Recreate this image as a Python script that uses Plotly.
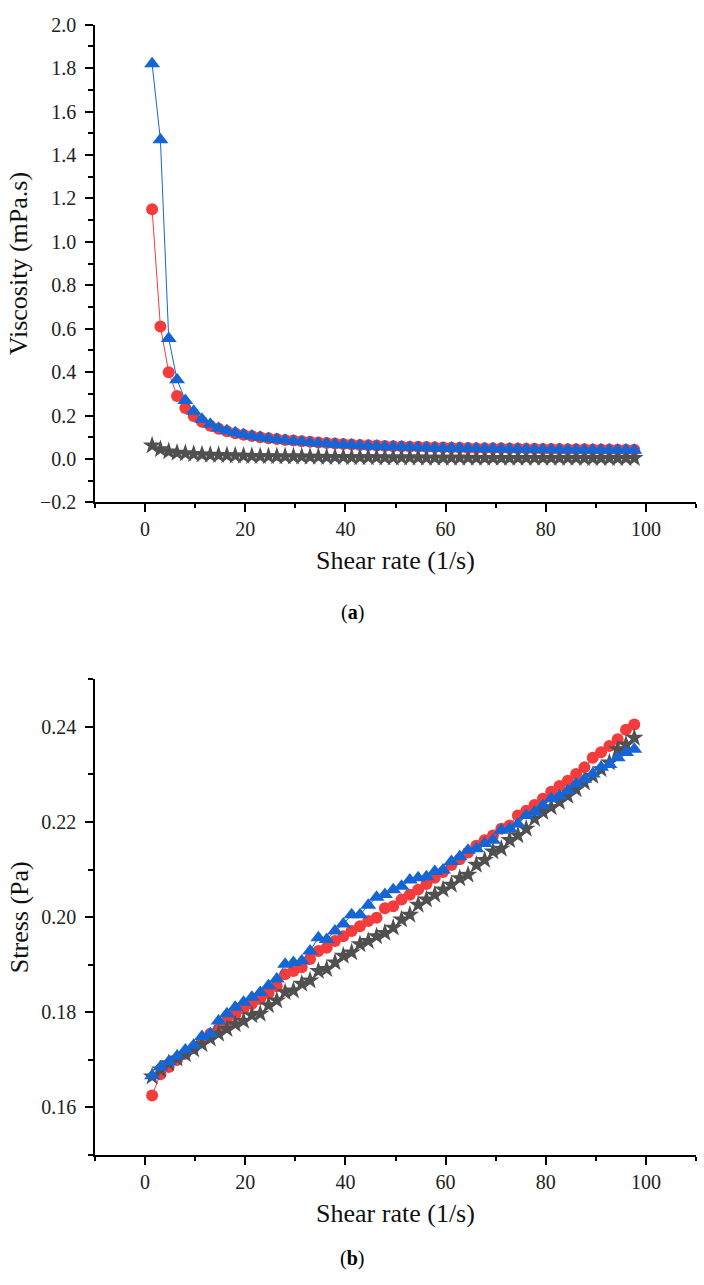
import plotly.graph_objects as go

# ---- data ----
shear_rate = [1.40, 3.06, 4.72, 6.38, 8.04, 9.70, 11.36, 13.02, 14.68, 16.34,
              18.00, 19.66, 21.32, 22.98, 24.64, 26.30, 27.96, 29.62, 31.28, 32.94,
              34.60, 36.26, 37.92, 39.58, 41.24, 42.90, 44.56, 46.22, 47.88, 49.54,
              51.20, 52.86, 54.52, 56.18, 57.84, 59.50, 61.16, 62.82, 64.48, 66.14,
              67.80, 69.46, 71.12, 72.78, 74.44, 76.10, 77.76, 79.42, 81.08, 82.74,
              84.40, 86.06, 87.72, 89.38, 91.04, 92.70, 94.36, 96.02, 97.68]

visc_red = [1.15, 0.61, 0.40, 0.29, 0.235, 0.198, 0.172, 0.153, 0.139, 0.128,
            0.119, 0.112, 0.106, 0.100, 0.096, 0.092, 0.088, 0.085, 0.082, 0.079,
            0.076, 0.074, 0.071, 0.069, 0.067, 0.065, 0.063, 0.062, 0.060, 0.059,
            0.058, 0.057, 0.056, 0.055, 0.054, 0.053, 0.052, 0.052, 0.051, 0.050,
            0.050, 0.049, 0.049, 0.048, 0.048, 0.047, 0.047, 0.046, 0.046, 0.046,
            0.045, 0.045, 0.045, 0.044, 0.044, 0.044, 0.043, 0.043, 0.043]

visc_blue = [1.82, 1.47, 0.555, 0.365, 0.27, 0.22, 0.183, 0.160, 0.142, 0.130,
             0.121, 0.113, 0.106, 0.100, 0.095, 0.090, 0.086, 0.082, 0.079, 0.076,
             0.073, 0.071, 0.068, 0.066, 0.064, 0.062, 0.060, 0.059, 0.057, 0.056,
             0.055, 0.054, 0.053, 0.052, 0.051, 0.050, 0.050, 0.049, 0.048, 0.048,
             0.047, 0.047, 0.046, 0.046, 0.045, 0.045, 0.044, 0.044, 0.044, 0.043,
             0.043, 0.043, 0.042, 0.042, 0.042, 0.041, 0.041, 0.041, 0.040]

visc_gray = [0.062, 0.045, 0.035, 0.029, 0.026, 0.023, 0.021, 0.019, 0.018, 0.017,
             0.016, 0.015, 0.014, 0.013, 0.013, 0.012, 0.012, 0.011, 0.011, 0.010,
             0.010, 0.009, 0.009, 0.009, 0.008, 0.008, 0.008, 0.008, 0.007, 0.007,
             0.007, 0.007, 0.007, 0.006, 0.006, 0.006, 0.006, 0.006, 0.006, 0.005,
             0.005, 0.005, 0.005, 0.005, 0.005, 0.005, 0.005, 0.005, 0.005, 0.005,
             0.005, 0.005, 0.004, 0.004, 0.004, 0.004, 0.004, 0.004, 0.004]

stress_red = [0.1625, 0.1670, 0.1685, 0.1700, 0.1713, 0.1725, 0.1740, 0.1755, 0.1765, 0.1780,
              0.1795, 0.1808, 0.1818, 0.1828, 0.1840, 0.1855, 0.1880, 0.1887, 0.1895, 0.1912,
              0.1929, 0.1936, 0.1950, 0.1960, 0.1971, 0.1981, 0.1992, 0.1999, 0.2019, 0.2023,
              0.2037, 0.2047, 0.2058, 0.2070, 0.2083, 0.2095, 0.2110, 0.2122, 0.2136, 0.2150,
              0.2162, 0.2172, 0.2186, 0.2193, 0.2214, 0.2224, 0.2236, 0.2249, 0.2264, 0.2276,
              0.2287, 0.2301, 0.2315, 0.2335, 0.2347, 0.2360, 0.2374, 0.2394, 0.2405]

stress_blue = [0.1667, 0.1685, 0.1696, 0.1708, 0.1721, 0.1731, 0.1749, 0.1755, 0.1782, 0.1797,
               0.1811, 0.1821, 0.1832, 0.1842, 0.1856, 0.1870, 0.1901, 0.1905, 0.1908, 0.1929,
               0.1957, 0.1953, 0.1971, 0.1986, 0.2005, 0.2005, 0.2025, 0.2042, 0.2048, 0.2058,
               0.2065, 0.2078, 0.2083, 0.2085, 0.2096, 0.2099, 0.2117, 0.2127, 0.2141, 0.2144,
               0.2155, 0.2162, 0.2183, 0.2186, 0.2196, 0.2214, 0.2221, 0.2235, 0.2249, 0.2255,
               0.2266, 0.2280, 0.2290, 0.2301, 0.2315, 0.2321, 0.2335, 0.2346, 0.2353]

stress_gray = [0.1665, 0.1680, 0.1693, 0.1703, 0.1712, 0.1722, 0.1733, 0.1745, 0.1755, 0.1765,
               0.1775, 0.1782, 0.1794, 0.1797, 0.1815, 0.1825, 0.1842, 0.1846, 0.1860, 0.1867,
               0.1887, 0.1891, 0.1905, 0.1919, 0.1926, 0.1943, 0.1950, 0.1960, 0.1967, 0.1978,
               0.1995, 0.2005, 0.2026, 0.2037, 0.2047, 0.2058, 0.2068, 0.2082, 0.2089, 0.2110,
               0.2120, 0.2138, 0.2144, 0.2162, 0.2172, 0.2186, 0.2207, 0.2221, 0.2231, 0.2242,
               0.2255, 0.2269, 0.2283, 0.2297, 0.2311, 0.2325, 0.2353, 0.2363, 0.2377]

x_ticks = [0, 20, 40, 60, 80, 100]
visc_ticks = [-0.2, 0.0, 0.2, 0.4, 0.6, 0.8, 1.0, 1.2, 1.4, 1.6, 1.8, 2.0]
stress_ticks = [0.16, 0.18, 0.20, 0.22, 0.24]

# ---- styles ----
RED = "#F53C3C"
BLUE = "#1566D4"
GRAY = "#505050"
SERIF = "Liberation Serif"
W, H = 704, 1285

fig = go.Figure()

def add_series(x, y, color, symbol, size, xa, ya):
    fig.add_trace(go.Scatter(
        x=x, y=y, mode="lines+markers", xaxis=xa, yaxis=ya,
        line=dict(color=color, width=1),
        marker=dict(color=color, symbol=symbol, size=size, line=dict(width=0)),
        showlegend=False, hoverinfo="skip"))

# panel (a)
add_series(shear_rate, visc_red, RED, "circle", 12, "x", "y")
add_series(shear_rate, visc_gray, GRAY, "star", 14, "x", "y")
add_series(shear_rate, visc_blue, BLUE, "triangle-up", 14, "x", "y")
# panel (b)
add_series(shear_rate, stress_red, RED, "circle", 12, "x2", "y2")
add_series(shear_rate, stress_gray, GRAY, "star", 14, "x2", "y2")
add_series(shear_rate, stress_blue, BLUE, "triangle-up", 14, "x2", "y2")

tickfont = dict(family=SERIF, size=20, color="#222")
titlefont = dict(family=SERIF, size=26, color="#111")

def xaxis(anchor):
    return dict(
        domain=[95 / W, 696 / W], anchor=anchor, range=[-10, 110],
        showline=True, linecolor="black", linewidth=1.5, mirror=False,
        showgrid=False, zeroline=False,
        tickmode="array", tickvals=x_ticks, ticks="outside", ticklen=8,
        tickwidth=1.5, tickcolor="black", tickfont=tickfont,
        minor=dict(dtick=10, tick0=0, ticks="outside", ticklen=4, tickwidth=1.5,
                   tickcolor="black", showgrid=False),
        title=dict(text="Shear rate (1/s)", font=titlefont, standoff=12),
    )

def yaxis(anchor, dom, rng, vals, fmt, minor_dtick, title):
    return dict(
        domain=dom, anchor=anchor, range=rng,
        showline=True, linecolor="black", linewidth=1.5, mirror=False,
        showgrid=False, zeroline=False,
        tickmode="array", tickvals=vals, tickformat=fmt, ticks="outside", ticklen=8,
        tickwidth=1.5, tickcolor="black", tickfont=tickfont, ticklabelstandoff=5,
        ticklabeloverflow="allow",
        minor=dict(dtick=minor_dtick, tick0=0, ticks="outside", ticklen=5, tickwidth=1.5,
                   tickcolor="black", showgrid=False),
        title=dict(text=title, font=titlefont, standoff=5),
    )

fig.update_layout(
    width=W, height=H,
    margin=dict(l=0, r=0, t=0, b=0),
    paper_bgcolor="white", plot_bgcolor="white",
    xaxis=xaxis("y"),
    yaxis=yaxis("x", [1 - 500 / H, 1 - 14 / H], [-0.2, 2.0], visc_ticks, ".1f", 0.1,
                "Viscosity (mPa.s)"),
    xaxis2=xaxis("y2"),
    yaxis2=yaxis("x2", [1 - 1164 / H, 1 - 680 / H], [0.15, 0.25], stress_ticks, ".2f", 0.01,
                 "Stress (Pa)"),
    annotations=[
        dict(text="(<b>a</b>)", x=352 / W, y=1 - 612 / H, xref="paper", yref="paper",
             xanchor="center", yanchor="middle",
             showarrow=False, font=dict(family=SERIF, size=20, color="black")),
        dict(text="(<b>b</b>)", x=352 / W, y=1 - 1269 / H, xref="paper", yref="paper",
             xanchor="center", yanchor="middle",
             showarrow=False, font=dict(family=SERIF, size=20, color="black")),
    ],
)

fig.write_html(
    "out.html",
    config={"displayModeBar": False},
    post_script="document.body.style.margin='0';document.body.style.overflow='hidden';",
)
